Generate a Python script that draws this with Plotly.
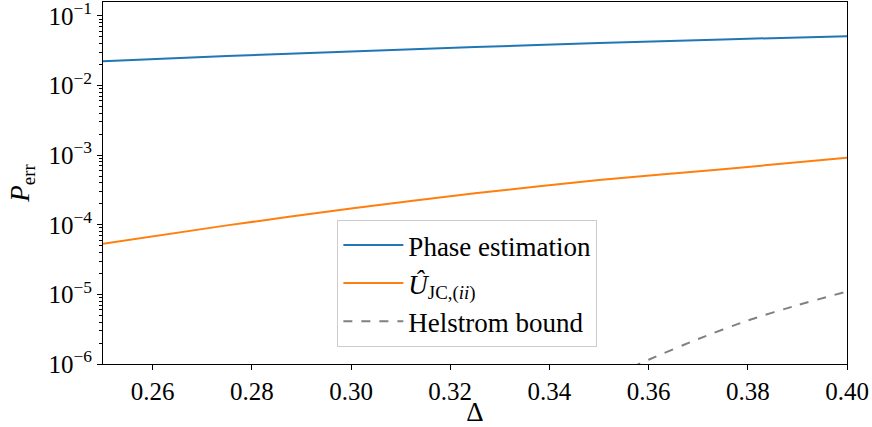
import numpy as np
import plotly.graph_objects as go

# Data
delta = [0.25, 0.275, 0.30, 0.325, 0.35, 0.375, 0.40]
phase_est = [0.0224, 0.0265, 0.0308, 0.0357, 0.0408, 0.0460, 0.0512]
u_jc = [5.32e-5, 9.8e-5, 1.71e-4, 2.83e-4, 4.38e-4, 6.28e-4, 9.2e-4]
delta_helstrom = [0.35, 0.36, 0.37, 0.38, 0.39, 0.40]
helstrom = [5.5e-7, 1.15e-6, 2.29e-6, 4.22e-6, 7.0e-6, 1.10e-5]

x_ticks = [0.26, 0.28, 0.30, 0.32, 0.34, 0.36, 0.38, 0.40]
x_ticklabels = ["0.26", "0.28", "0.30", "0.32", "0.34", "0.36", "0.38", "0.40"]
y_exps = [-6, -5, -4, -3, -2, -1]

y_tickvals = [10.0 ** e for e in y_exps]
y_ticktext = ["10<sup>\u2212%d</sup>" % (-e) for e in y_exps]
y_minor = [m * 10.0 ** e for e in range(-7, 0) for m in range(2, 10)]

FONT = "Liberation Serif, Times New Roman, serif"

fig = go.Figure()
fig.add_trace(go.Scatter(x=delta, y=phase_est, mode="lines", name="Phase estimation",
                         line=dict(color="#1f77b4", width=2, shape="spline", smoothing=0.8)))
fig.add_trace(go.Scatter(x=delta, y=u_jc, mode="lines",
                         name="<i>\u00db</i><sub>JC,(<i>ii</i>)</sub>",
                         line=dict(color="#ff7f0e", width=2, shape="spline", smoothing=0.8)))
fig.add_trace(go.Scatter(x=delta_helstrom, y=helstrom, mode="lines", name="Helstrom bound",
                         line=dict(color="#808080", width=2, dash="dash", shape="spline",
                                   smoothing=0.6)))

fig.update_layout(
    width=872, height=427,
    margin=dict(l=103, r=25, t=2, b=63, autoexpand=False),
    paper_bgcolor="white", plot_bgcolor="white",
    font=dict(family=FONT, size=25, color="black"),
    showlegend=True,
    legend=dict(x=0.315, y=0.398, xanchor="left", yanchor="top",
                bgcolor="rgba(255,255,255,0.8)", bordercolor="#cccccc", borderwidth=1,
                font=dict(family=FONT, size=27), tracegroupgap=0,
                itemwidth=60),
    xaxis=dict(range=[0.25, 0.40], tickvals=x_ticks, ticktext=x_ticklabels,
               showgrid=False, zeroline=False, showline=True, mirror=True,
               linecolor="black", linewidth=1, ticks="outside", ticklen=5,
               tickcolor="black", ticklabeloverflow="allow",
               title=dict(text="\u0394", standoff=8, font=dict(size=27))),
    yaxis=dict(type="log", range=[-6, -0.8], tickvals=y_tickvals, ticktext=y_ticktext,
               showgrid=False, zeroline=False, showline=True, mirror=True,
               linecolor="black", linewidth=1, ticks="outside", ticklen=5,
               tickcolor="black", ticklabeloverflow="allow",
               minor=dict(tickvals=y_minor, ticks="outside", ticklen=3,
                          tickcolor="black", showgrid=False),
               title=dict(text="<i>P</i><sub>err</sub>", standoff=10, font=dict(size=27))),
)

fig.write_html("out.html", config={"displayModeBar": False},
               post_script="document.body.style.margin='0';document.body.style.padding='0';")
